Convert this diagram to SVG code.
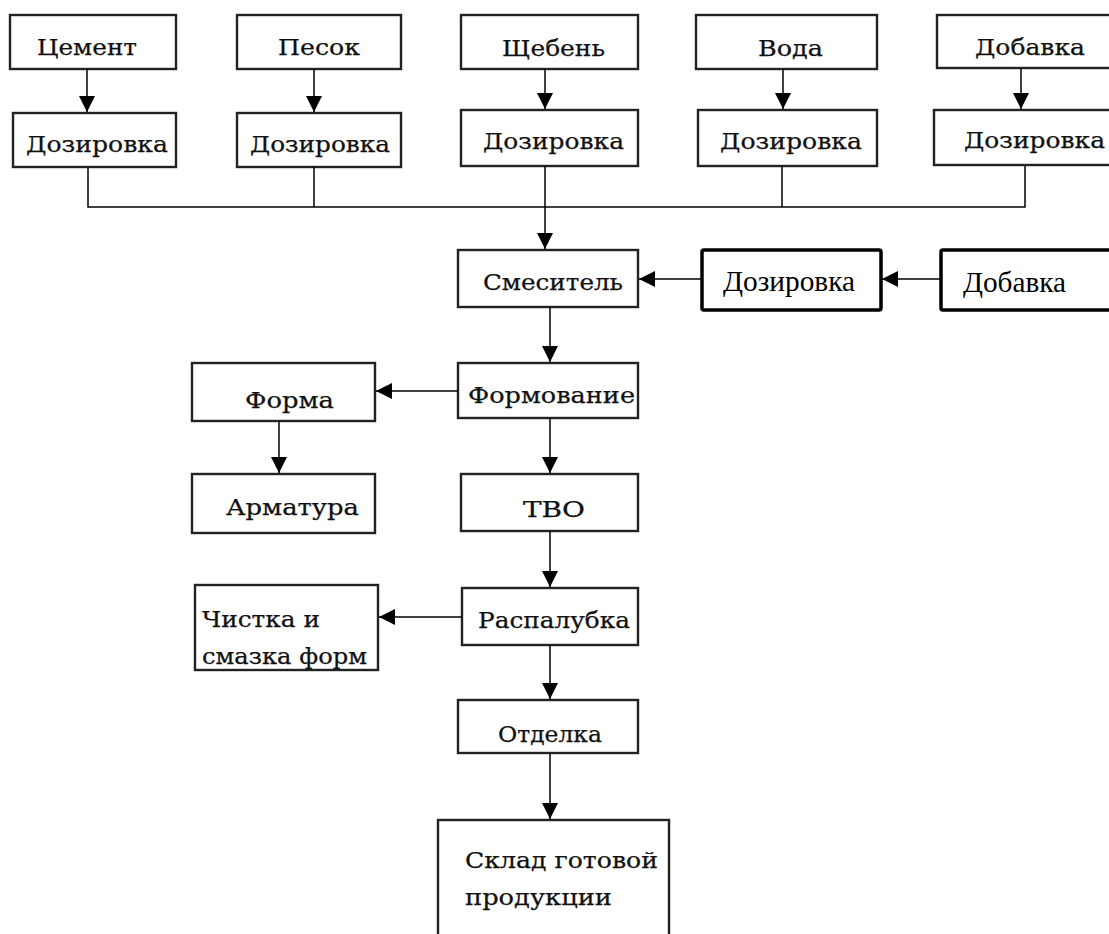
<svg xmlns="http://www.w3.org/2000/svg" width="1109" height="934" viewBox="0 0 1109 934">
<defs>
<style>
.b{fill:#fff;stroke:#222;stroke-width:2.4}
.bb{fill:#fff;stroke:#000;stroke-width:3.5}
.t{font-family:"DejaVu Serif","Liberation Serif",serif;font-size:22px;fill:#111;stroke:#111;stroke-width:0.25}
.tb{font-family:"Liberation Serif","Times New Roman",serif;font-size:29px;fill:#000}
.c{fill:none;stroke:#000;stroke-width:1.5}
</style>
<marker id="ah" markerUnits="userSpaceOnUse" markerWidth="16" markerHeight="16" viewBox="0 0 16 16" refX="16" refY="8" orient="auto">
<path d="M0,0 L16,8 L0,16 z" fill="#000"/>
</marker>
</defs>
<rect width="1109" height="934" fill="#fff"/>

<g id="n-cement"><rect class="b" x="10" y="15" width="166" height="54"/><text class="t" x="37" y="55" textLength="100" lengthAdjust="spacingAndGlyphs">Цемент</text></g>
<g id="n-pesok"><rect class="b" x="237" y="15" width="164" height="54"/><text class="t" x="278" y="55" textLength="82" lengthAdjust="spacingAndGlyphs">Песок</text></g>
<g id="n-sheben"><rect class="b" x="461" y="15" width="177" height="54"/><text class="t" x="502" y="56" textLength="103" lengthAdjust="spacingAndGlyphs">Щебень</text></g>
<g id="n-voda"><rect class="b" x="696" y="15" width="181" height="54"/><text class="t" x="758" y="56" textLength="65" lengthAdjust="spacingAndGlyphs">Вода</text></g>
<g id="n-dobavka1"><rect class="b" x="937" y="15" width="175" height="53"/><text class="t" x="975" y="55" textLength="110" lengthAdjust="spacingAndGlyphs">Добавка</text></g>

<g id="n-doz1"><rect class="b" x="13" y="113" width="163" height="54"/><text class="t" x="26" y="152" textLength="142" lengthAdjust="spacingAndGlyphs">Дозировка</text></g>
<g id="n-doz2"><rect class="b" x="237" y="113" width="164" height="54"/><text class="t" x="250" y="152" textLength="140" lengthAdjust="spacingAndGlyphs">Дозировка</text></g>
<g id="n-doz3"><rect class="b" x="461" y="110" width="177" height="56"/><text class="t" x="483" y="149" textLength="141" lengthAdjust="spacingAndGlyphs">Дозировка</text></g>
<g id="n-doz4"><rect class="b" x="698" y="110" width="179" height="56"/><text class="t" x="720" y="149" textLength="142" lengthAdjust="spacingAndGlyphs">Дозировка</text></g>
<g id="n-doz5"><rect class="b" x="934" y="110" width="178" height="55"/><text class="t" x="964" y="148" textLength="141" lengthAdjust="spacingAndGlyphs">Дозировка</text></g>

<g id="n-smesitel"><rect class="b" x="458" y="250" width="180" height="57"/><text class="t" x="483" y="290" textLength="140" lengthAdjust="spacingAndGlyphs">Смеситель</text></g>
<g id="n-doz6"><rect class="bb" x="702" y="250" width="179" height="60" rx="2"/><text class="tb" x="723" y="291" textLength="132" lengthAdjust="spacingAndGlyphs">Дозировка</text></g>
<g id="n-dobavka2"><rect class="bb" x="941" y="250" width="172" height="60" rx="2"/><text class="tb" x="963" y="292" textLength="103" lengthAdjust="spacingAndGlyphs">Добавка</text></g>

<g id="n-forma"><rect class="b" x="192" y="363" width="183" height="58"/><text class="t" x="245" y="408" textLength="89" lengthAdjust="spacingAndGlyphs">Форма</text></g>
<g id="n-formovanie"><rect class="b" x="458" y="363" width="180" height="55"/><text class="t" x="468" y="403" textLength="167" lengthAdjust="spacingAndGlyphs">Формование</text></g>
<g id="n-armatura"><rect class="b" x="192" y="474" width="183" height="59"/><text class="t" x="226" y="515" textLength="133" lengthAdjust="spacingAndGlyphs">Арматура</text></g>
<g id="n-tvo"><rect class="b" x="461" y="474" width="177" height="57"/><text class="t" x="523" y="517" textLength="62" lengthAdjust="spacingAndGlyphs">ТВО</text></g>
<g id="n-chistka"><rect class="b" x="195" y="585" width="183" height="85"/><text class="t" x="202" y="627" textLength="118" lengthAdjust="spacingAndGlyphs">Чистка и</text><text class="t" x="202" y="664" textLength="165" lengthAdjust="spacingAndGlyphs">смазка форм</text></g>
<g id="n-raspalubka"><rect class="b" x="462" y="588" width="176" height="57"/><text class="t" x="478" y="628" textLength="152" lengthAdjust="spacingAndGlyphs">Распалубка</text></g>
<g id="n-otdelka"><rect class="b" x="458" y="700" width="180" height="53"/><text class="t" x="498" y="742" textLength="104" lengthAdjust="spacingAndGlyphs">Отделка</text></g>
<g id="n-sklad"><rect class="b" x="438" y="820" width="231" height="125"/><text class="t" x="465" y="868" textLength="193" lengthAdjust="spacingAndGlyphs">Склад готовой</text><text class="t" x="465" y="905" textLength="147" lengthAdjust="spacingAndGlyphs">продукции</text></g>

<g id="connectors">
<line class="c" x1="87" y1="69" x2="87" y2="112" marker-end="url(#ah)"/>
<line class="c" x1="314" y1="69" x2="314" y2="112" marker-end="url(#ah)"/>
<line class="c" x1="545" y1="69" x2="545" y2="109" marker-end="url(#ah)"/>
<line class="c" x1="783" y1="69" x2="783" y2="109" marker-end="url(#ah)"/>
<line class="c" x1="1021" y1="68" x2="1021" y2="109" marker-end="url(#ah)"/>
<polyline class="c" points="88,167 88,207 1025,207 1025,166"/>
<line class="c" x1="314" y1="167" x2="314" y2="207"/>
<line class="c" x1="782" y1="166" x2="782" y2="207"/>
<line class="c" x1="545" y1="166" x2="545" y2="249" marker-end="url(#ah)"/>
<line class="c" x1="702" y1="279" x2="639" y2="279" marker-end="url(#ah)"/>
<line class="c" x1="941" y1="279" x2="882" y2="279" marker-end="url(#ah)"/>
<line class="c" x1="550" y1="307" x2="550" y2="362" marker-end="url(#ah)"/>
<line class="c" x1="458" y1="391" x2="376" y2="391" marker-end="url(#ah)"/>
<line class="c" x1="279" y1="421" x2="279" y2="473" marker-end="url(#ah)"/>
<line class="c" x1="550" y1="418" x2="550" y2="473" marker-end="url(#ah)"/>
<line class="c" x1="550" y1="531" x2="550" y2="587" marker-end="url(#ah)"/>
<line class="c" x1="462" y1="617" x2="379" y2="617" marker-end="url(#ah)"/>
<line class="c" x1="550" y1="645" x2="550" y2="699" marker-end="url(#ah)"/>
<line class="c" x1="550" y1="753" x2="550" y2="819" marker-end="url(#ah)"/>
</g>
</svg>
